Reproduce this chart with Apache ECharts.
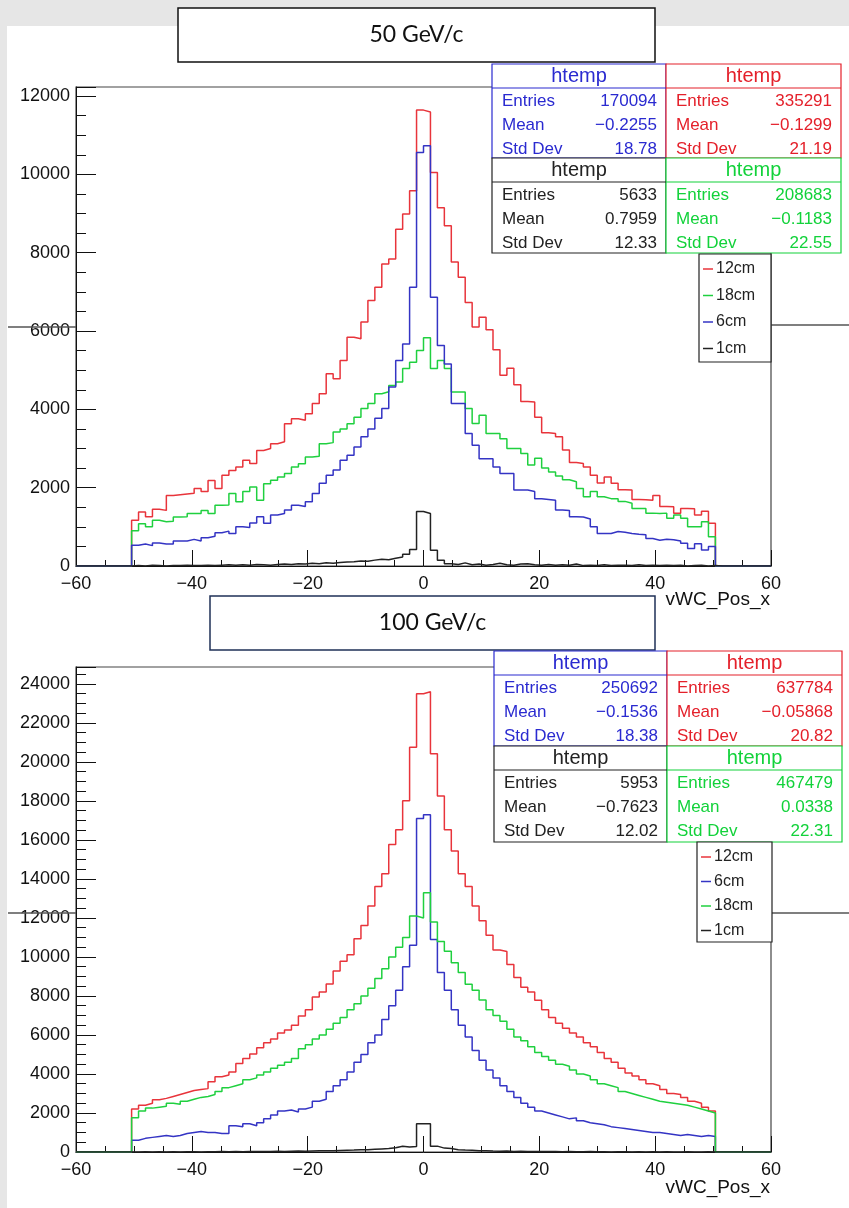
<!DOCTYPE html>
<html>
<head>
<meta charset="utf-8">
<script src="https://cdn.jsdelivr.net/npm/echarts@6/dist/echarts.min.js"></script>
<style>
  html, body { margin: 0; padding: 0; background: #e6e6e6; }
  #paper { position: absolute; left: 7px; top: 26px; width: 842px; height: 1182px; background: #fff; }
  #chart { position: absolute; left: 0; top: 0; width: 849px; height: 1208px; }
</style>
</head>
<body>
<div id="paper"></div>
<div id="chart"></div>
<script>
// histogram binning: 100 bins from -60 to 60
const xLow = -60, binW = 1.2;

// 50 GeV/c, bin contents
const red50 = [0,0,0,0,0,0,0,0,
  1170,1380,1260,1450,1420,1800,1820,1840,1860,1980,1900,2180,1980,2320,2440,2530,2700,2620,2950,3000,3120,3170,3630,3760,3720,
  3890,4150,4400,4910,4780,5250,5840,5800,6230,6780,7120,7710,7840,8600,8990,9580,
  11640,11590,
  10050,9150,8690,7760,7370,6730,6100,6350,6030,5520,4870,5050,4630,4200,4190,3800,3400,
  3380,3300,2960,2640,2620,2530,2320,2120,2270,2110,1950,1940,1700,1690,1680,1800,1520,1510,1350,1470,1460,1300,1400,1090,
  0,0,0,0,0,0,0,0];
const green50 = [0,0,0,0,0,0,0,0,
  900,1080,1000,1170,1130,1140,1250,1260,1340,1340,1420,1340,1550,1560,1850,1640,1900,2020,1680,2100,2190,2270,2360,2530,2610,
  2780,2800,3120,3150,3420,3500,3630,3800,4020,4150,4400,4450,4610,4700,5040,5200,
  5500,5830,
  5040,5250,5040,4440,4440,4020,3640,3850,3380,3380,3250,3000,3000,2870,2580,2750,2500,
  2400,2300,2200,2150,1980,1770,1900,1770,1720,1720,1650,1600,1470,1470,1350,1340,1350,1220,1300,1220,1000,1000,1130,750,
  0,0,0,0,0,0,0,0];
const blue50 = [0,0,0,0,0,0,0,0,
  530,560,520,590,560,560,640,640,680,640,720,760,850,890,830,1000,980,1100,1260,1090,1300,1340,1430,1550,1520,
  1640,1850,2110,2320,2450,2700,2830,3040,3300,3500,3770,4020,4570,5250,5670,7120,
  10560,10730,
  6860,5630,5160,4150,4150,3380,3080,2740,2740,2530,2360,2360,1940,1940,1900,1720,1700,
  1680,1430,1420,1260,1250,1200,1000,830,830,880,860,830,810,800,700,660,680,670,640,580,450,570,410,500,
  0,0,0,0,0,0,0,0];
const black50 = [0,0,0,0,0,0,0,0,
  10,0,20,10,0,10,10,20,10,10,20,10,20,30,20,30,20,40,30,20,40,50,40,60,50,
  70,60,80,70,90,100,110,130,120,150,170,160,200,230,300,420,
  1390,1340,
  400,150,60,40,80,30,50,20,40,70,30,20,50,60,30,20,40,
  20,30,20,50,10,20,10,30,10,20,20,10,30,10,20,10,20,10,20,0,10,20,0,10,
  0,0,0,0,0,0,0,0];

// 100 GeV/c, bin contents
const red100 = [0,0,0,0,0,0,0,0,
  2210,2400,2500,2680,2750,2850,2950,3050,3150,3200,3250,3600,3860,3950,4100,4540,4800,5030,5350,5600,5800,6100,6250,6500,6970,
  7290,7950,8200,8620,9280,9780,10110,10940,11610,12610,13610,14270,15770,16520,18010,20760,
  23500,23600,
  20420,18260,16520,15430,14270,13610,12610,11860,11110,10360,10280,9610,8950,8450,8200,7780,7290,
  6900,6600,6350,6100,5900,5600,5400,5100,4800,4600,4300,4050,3900,3700,3500,3400,3200,3000,2950,2800,2600,2500,2300,2100,
  0,0,0,0,0,0,0,0];
const green100 = [0,0,0,0,0,0,0,0,
  1750,2100,2250,2300,2350,2500,2450,2600,2700,2800,2850,2950,3100,3300,3400,3500,3700,3800,3950,4100,4300,4450,4600,4800,5300,
  5500,5800,6000,6300,6600,6900,7300,7600,8000,8400,8900,9400,10000,10500,11000,12100,
  12000,13300,
  11800,10800,10300,9700,9200,8600,8300,7800,7300,7000,6700,6300,5900,5700,5400,5100,4900,
  4700,4500,4400,4200,4000,3900,3700,3500,3400,3300,3100,3000,2900,2800,2700,2600,2550,2500,2450,2400,2300,2200,2100,2000,
  0,0,0,0,0,0,0,0];
const blue100 = [0,0,0,0,0,0,0,0,
  600,700,750,800,850,800,850,950,1000,1050,1000,1000,950,950,1350,1300,1450,1350,1500,1700,1900,2100,2150,2050,2200,
  2300,2600,2700,3100,3400,3700,4100,4600,5000,5600,6000,6800,7500,8300,9500,10600,
  17100,17300,
  10900,9200,8300,7300,6500,5900,5200,4700,4200,3800,3400,3100,2800,2500,2300,2100,2000,
  1900,1800,1700,1750,1600,1500,1450,1400,1300,1250,1200,1150,1100,1050,1000,1000,950,900,850,900,850,800,850,800,
  0,0,0,0,0,0,0,0];
const black100 = [0,0,0,0,0,0,0,0,
  0,10,0,10,0,10,0,10,10,0,10,10,20,10,20,10,20,30,20,30,40,30,40,50,40,
  50,60,70,60,80,90,100,120,110,140,160,180,220,300,260,280,
  1450,1450,
  300,200,180,120,100,90,60,70,50,40,50,30,40,30,20,30,20,
  20,10,20,10,10,20,10,10,0,10,10,0,10,0,10,0,10,0,0,10,0,0,10,0,
  0,0,0,0,0,0,0,0];

// stat boxes and legends
const statNames = ['Entries', 'Mean', 'Std Dev'];
const stat50Blue = ['170094', '\u22120.2255', '18.78'];
const stat50Red = ['335291', '\u22120.1299', '21.19'];
const stat50Black = ['5633', '0.7959', '12.33'];
const stat50Green = ['208683', '\u22120.1183', '22.55'];
const stat100Blue = ['250692', '\u22120.1536', '18.38'];
const stat100Red = ['637784', '\u22120.05868', '20.82'];
const stat100Black = ['5953', '\u22120.7623', '12.02'];
const stat100Green = ['467479', '0.0338', '22.31'];
const legend50 = ['12cm', '18cm', '6cm', '1cm'];
const legend100 = ['12cm', '6cm', '18cm', '1cm'];

const C = { red: '#e8343b', green: '#1fd03f', blue: '#3434c4', black: '#222222' };
const TXT = { red: '#e4202a', green: '#12d23a', blue: '#2a2ad0', black: '#222222' };
const FONT = 'Liberation Sans, Arial, sans-serif';

function steps(counts) {
  const pts = counts.map((c, i) => [xLow + i * binW, c]);
  pts.push([xLow + counts.length * binW, counts[counts.length - 1]]);
  return pts;
}

function histSeries(counts, color, idx) {
  return {
    type: 'line', step: 'end', xAxisIndex: idx, yAxisIndex: idx,
    data: steps(counts), showSymbol: false, silent: true,
    lineStyle: { color: color, width: 1.5 }, z: 3
  };
}

function xAxisFor(idx) {
  return {
    type: 'value', gridIndex: idx, min: -60, max: 60, interval: 20,
    axisLine: { onZero: false, lineStyle: { color: '#111', width: 1 } },
    axisTick: { inside: true, length: 16, lineStyle: { color: '#111' } },
    minorTick: { show: true, splitNumber: 4, length: 6, lineStyle: { color: '#111' } },
    splitLine: { show: false },
    axisLabel: {
      color: '#111', fontSize: 18, fontFamily: FONT, margin: 9,
      formatter: v => String(v).replace('-', '\u2212')
    }
  };
}

function yAxisFor(idx, max) {
  return {
    type: 'value', gridIndex: idx, min: 0, max: max, interval: 2000,
    axisLine: { show: true, onZero: false, lineStyle: { color: '#111', width: 1 } },
    axisTick: { inside: true, length: 20, lineStyle: { color: '#111' } },
    minorTick: { show: true, splitNumber: 4, length: 10, lineStyle: { color: '#111' } },
    splitLine: { show: false },
    axisLabel: {
      color: '#111', fontSize: 18, fontFamily: FONT, margin: 6,
      formatter: v => (v % 2000 === 0 ? String(v) : '')
    }
  };
}

function txt(x, y, s, color, size, align, family) {
  return {
    type: 'text', x: x, y: y, z: 20,
    style: { text: s, fill: color, font: size + 'px ' + (family || FONT), align: align || 'left', verticalAlign: 'middle' }
  };
}

function statBox(x, y, w, h, color, vals) {
  const els = [
    { type: 'rect', z: 15, shape: { x: x, y: y, width: w, height: h }, style: { fill: '#fff', stroke: color, lineWidth: 1.2 } },
    { type: 'line', z: 16, shape: { x1: x, y1: y + 24, x2: x + w, y2: y + 24 }, style: { stroke: color, lineWidth: 1.2 } },
    txt(x + w / 2, y + 12, 'htemp', color, 20, 'center')
  ];
  statNames.forEach((n, i) => {
    els.push(txt(x + 10, y + 37 + i * 24, n, color, 17, 'left'));
    els.push(txt(x + w - 9, y + 37 + i * 24, vals[i], color, 17, 'right'));
  });
  return els;
}

function legendBox(x, y, w, h, names, colors, gap) {
  const els = [
    { type: 'rect', z: 15, shape: { x: x, y: y, width: w, height: h }, style: { fill: '#fff', stroke: '#222', lineWidth: 1.2 } }
  ];
  names.forEach((n, i) => {
    const ly = y + 15 + i * gap;
    els.push({ type: 'line', z: 16, shape: { x1: x + 4, y1: ly, x2: x + 14, y2: ly }, style: { stroke: colors[i], lineWidth: 1.5 } });
    els.push(txt(x + 17, ly, n, '#222', 16, 'left'));
  });
  return els;
}

function titleBox(x, y, w, h, s, stroke) {
  return [
    { type: 'rect', z: 15, shape: { x: x, y: y, width: w, height: h }, style: { fill: '#fff', stroke: stroke, lineWidth: 1.5 } },
    txt(x + w / 2, y + h / 2, s, '#111', 23, 'center', 'Lato, Open Sans, sans-serif')
  ];
}

function rule(x1, y1, x2, y2) {
  return { type: 'line', z: 1, shape: { x1: x1, y1: y1, x2: x2, y2: y2 }, style: { stroke: '#555', lineWidth: 1.5 } };
}

const graphics = [].concat(
  rule(8, 327, 76, 327), rule(771, 325, 849, 325),
  rule(8, 913, 76, 913), rule(772, 913, 849, 913),
  titleBox(178, 8, 477, 54, '50 GeV/c', '#111'),
  titleBox(210, 596, 445, 54, '100 GeV/c', '#1f3057'),
  statBox(492, 64, 174, 94, TXT.blue, stat50Blue),
  statBox(666, 64, 175, 94, TXT.red, stat50Red),
  statBox(492, 158, 174, 95, TXT.black, stat50Black),
  statBox(666, 158, 175, 95, TXT.green, stat50Green),
  legendBox(699, 254, 72, 108, legend50, [C.red, C.green, C.blue, C.black], 26.5),
  statBox(494, 651, 173, 95, TXT.blue, stat100Blue),
  statBox(667, 651, 175, 95, TXT.red, stat100Red),
  statBox(494, 746, 173, 96, TXT.black, stat100Black),
  statBox(667, 746, 175, 96, TXT.green, stat100Green),
  legendBox(697, 842, 75, 100, legend100, [C.red, C.blue, C.green, C.black], 24.5),
  txt(770, 600, 'vWC_Pos_x', '#111', 19, 'right'),
  txt(770, 1188, 'vWC_Pos_x', '#111', 19, 'right')
);

const chart = echarts.init(document.getElementById('chart'), null, { renderer: 'canvas' });
chart.setOption({
  animation: false,
  backgroundColor: 'transparent',
  grid: [
    { left: 76, top: 87, width: 695, height: 479, show: true, borderColor: '#444', borderWidth: 1.2, backgroundColor: 'transparent' },
    { left: 76, top: 667, width: 695, height: 485, show: true, borderColor: '#444', borderWidth: 1.2, backgroundColor: 'transparent' }
  ],
  xAxis: [xAxisFor(0), xAxisFor(1)],
  yAxis: [yAxisFor(0, 12230), yAxisFor(1, 24870)],
  series: [
    histSeries(red50, C.red, 0),
    histSeries(green50, C.green, 0),
    histSeries(blue50, C.blue, 0),
    histSeries(black50, C.black, 0),
    histSeries(red100, C.red, 1),
    histSeries(blue100, C.blue, 1),
    histSeries(green100, C.green, 1),
    histSeries(black100, C.black, 1)
  ],
  graphic: graphics
});
</script>
</body>
</html>
